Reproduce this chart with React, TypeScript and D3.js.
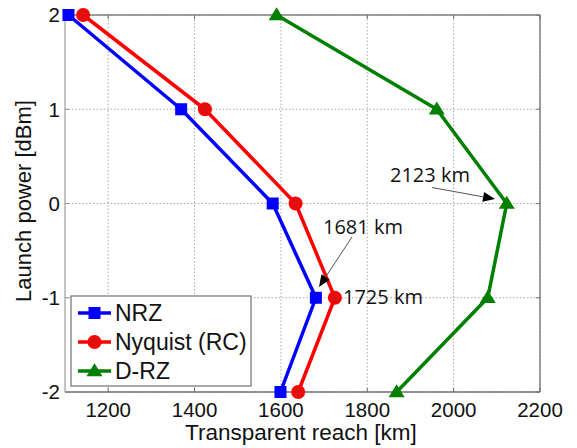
import React from "react";
import * as d3 from "d3";

const powers = [2, 1, 0, -1, -2];
const nrz = [1108, 1369, 1581, 1681, 1599];
const nyquist = [1142, 1424, 1634, 1725, 1640];
const drz = [1590, 1961, 2123, 2079, 1868];
const xTicks = [1200, 1400, 1600, 1800, 2000, 2200];
const yTicks = [-2, -1, 0, 1, 2];
const seriesNames = ["NRZ", "Nyquist (RC)", "D-RZ"];
const seriesColors = ["#0000ff", "#ff0000", "#008000"];

const W = 577, H = 448;
const M = { left: 65, right: 37, top: 15, bottom: 56 };

export default function App() {
  const x = d3.scaleLinear().domain([1100, 2200]).range([M.left, W - M.right]);
  const y = d3.scaleLinear().domain([-2, 2]).range([H - M.bottom, M.top]);
  const x0 = x.range()[0], x1 = x.range()[1];
  const y0 = y.range()[0], y1 = y.range()[1];
  const series = [nrz, nyquist, drz];
  const line = d3.line<[number, number]>().x((d) => x(d[0])).y((d) => y(d[1]));
  const font = "Arial, 'Liberation Sans', sans-serif";
  const annFont = "'Open Sans', sans-serif";

  const marker = (i: number, cx: number, cy: number, key: string) => {
    const c = seriesColors[i];
    if (i === 0) return <rect key={key} x={cx - 6} y={cy - 6} width={12} height={12} fill={c} />;
    if (i === 1) return <circle key={key} cx={cx} cy={cy} r={6} fill="#e01010" stroke={c} strokeWidth={2} />;
    const w = 16, h = 13;
    return <path key={key} d={`M${cx},${cy - h * 0.6}L${cx + w / 2},${cy + h * 0.4}L${cx - w / 2},${cy + h * 0.4}Z`} fill={c} />;
  };

  const arrow = (fx: number, fy: number, tx: number, ty: number) => {
    const ang = Math.atan2(ty - fy, tx - fx);
    const L = 12, Wd = 5;
    const bx = tx - L * Math.cos(ang), by = ty - L * Math.sin(ang);
    const px = -Math.sin(ang) * Wd, py = Math.cos(ang) * Wd;
    return (
      <g>
        <line x1={fx} y1={fy} x2={bx} y2={by} stroke="#555" strokeWidth={1} />
        <path d={`M${tx},${ty}L${bx + px},${by + py}L${bx - px},${by - py}Z`} fill="#000" />
      </g>
    );
  };

  const legX = 71, legY = 296, legW = 180, legH = 90;

  return (
    <svg width={W} height={H} style={{ position: "absolute", left: 0, top: 0, background: "#fff" }}>
      <rect x={0} y={0} width={W} height={H} fill="#fff" />
      {/* grid */}
      {xTicks.map((t) => (
        <line key={"gx" + t} x1={x(t)} x2={x(t)} y1={y0} y2={y1} stroke="#a8a8a8" strokeWidth={1} strokeDasharray="1.5,2" />
      ))}
      {yTicks.map((t) => (
        <line key={"gy" + t} x1={x0} x2={x1} y1={y(t)} y2={y(t)} stroke="#a8a8a8" strokeWidth={1} strokeDasharray="1.5,2" />
      ))}
      {/* frame */}
      <line x1={x0} x2={x1} y1={y1} y2={y1} stroke="#808080" strokeWidth={1.5} />
      <line x1={x1} x2={x1} y1={y1} y2={y0} stroke="#808080" strokeWidth={1.5} />
      <line x1={x0} x2={x1} y1={y0} y2={y0} stroke="#707070" strokeWidth={1.5} />
      <line x1={x0} x2={x0} y1={y1} y2={y0} stroke="#b0b0b0" strokeWidth={1.5} />
      {/* ticks */}
      {xTicks.map((t) => (
        <g key={"tx" + t}>
          <line x1={x(t)} x2={x(t)} y1={y0} y2={y0 - 4} stroke="#707070" />
          <line x1={x(t)} x2={x(t)} y1={y1} y2={y1 + 4} stroke="#707070" />
          <text x={x(t)} y={y0 + 25} textAnchor="middle" fontFamily={font} fontSize={20.5} fill="#111">{t}</text>
        </g>
      ))}
      {yTicks.map((t) => (
        <g key={"ty" + t}>
          <line x1={x0} x2={x0 + 4} y1={y(t)} y2={y(t)} stroke="#909090" />
          <line x1={x1} x2={x1 - 4} y1={y(t)} y2={y(t)} stroke="#707070" />
          <text x={60} y={y(t)} dy="0.36em" textAnchor="end" fontFamily={font} fontSize={20.5} fill="#111">{t}</text>
        </g>
      ))}
      {/* axis labels */}
      <text x={301} y={440} textAnchor="middle" fontFamily={font} fontSize={22.5} fill="#111">Transparent reach [km]</text>
      <text transform={`translate(31,201) rotate(-90)`} textAnchor="middle" fontFamily={font} fontSize={22} fill="#111">Launch power [dBm]</text>
      {/* series */}
      {series.map((s, i) => {
        const pts = s.map((v, j) => [v, powers[j]] as [number, number]);
        return (
          <g key={"s" + i}>
            <path d={line(pts) || ""} fill="none" stroke={seriesColors[i]} strokeWidth={3.5} strokeLinejoin="round" />
            {pts.map((p, j) => marker(i, x(p[0]), y(p[1]), `m${i}-${j}`))}
          </g>
        );
      })}
      {/* annotations */}
      <text x={390} y={182} fontFamily={annFont} fontSize={20} fill="#111">2123 km</text>
      {arrow(432, 187.5, 495, 199)}
      <text x={323} y={234} fontFamily={annFont} fontSize={20} fill="#111">1681 km</text>
      {arrow(352, 237, 319, 287)}
      <text x={343} y={304} fontFamily={annFont} fontSize={20} fill="#111">1725 km</text>
      {/* legend */}
      <rect x={legX} y={legY} width={legW} height={legH} fill="#fff" stroke="#707070" strokeWidth={1.2} />
      {seriesNames.map((n, i) => {
        const ly = 313 + i * 29;
        return (
          <g key={"l" + i}>
            <line x1={78} x2={111} y1={ly} y2={ly} stroke={seriesColors[i]} strokeWidth={3.5} />
            {marker(i, 94.5, ly, "lm" + i)}
            <text x={115} y={ly} dy="0.36em" fontFamily={font} fontSize={23} fill="#111">{n}</text>
          </g>
        );
      })}
    </svg>
  );
}
